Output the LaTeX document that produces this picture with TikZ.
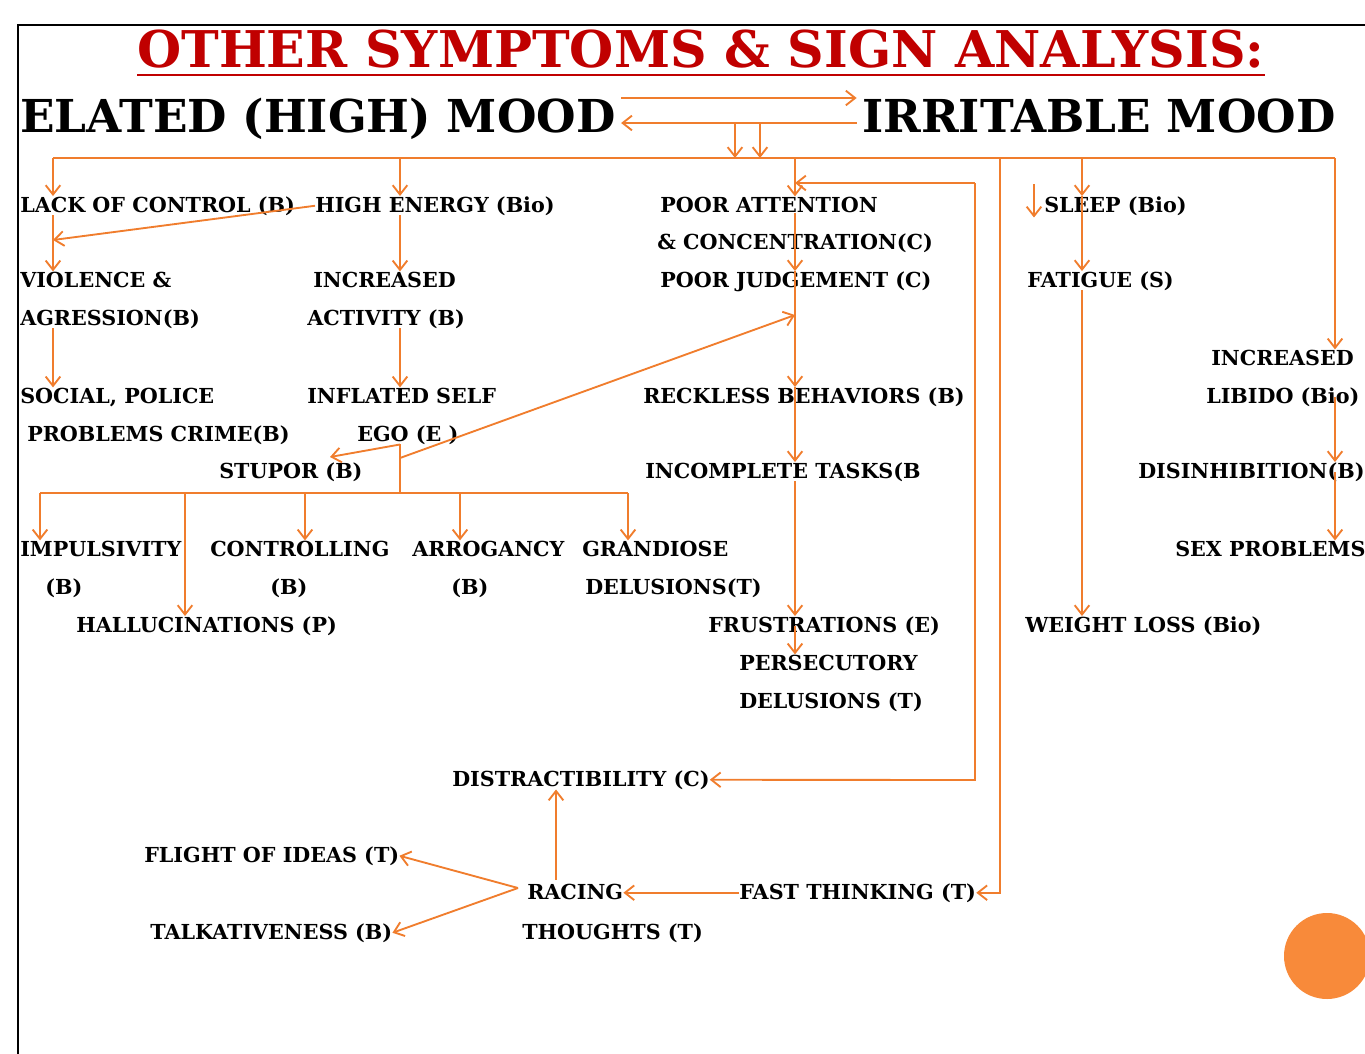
\documentclass[tikz,border=0pt]{standalone}
\usepackage{fontspec}
\setmainfont{DejaVu Serif}
\usetikzlibrary{arrows.meta,calc}
\definecolor{linkorange}{RGB}{240,125,45}
\definecolor{dotorange}{RGB}{248,138,58}
\definecolor{titlered}{RGB}{192,0,0}

\begin{document}
\begin{tikzpicture}[x=0.75pt,y=0.75pt,yscale=-1,
  lbl/.style={anchor=base west,inner sep=0pt,font=\fontsize{15.5}{18}\selectfont\bfseries},
  moodtxt/.style={anchor=base west,inner sep=0pt,font=\fontsize{34}{36}\selectfont\bfseries},
  link/.style={draw=linkorange,line width=1.4pt},
  arr/.style={link,-{Straight Barb[length=7pt,width=11pt]}}]
\useasboundingbox (0,0) rectangle (1365,1054);

% frame and dot
\draw[line width=1.5pt] (1365,25) -- (18,25) -- (18,1054);
\fill[dotorange] (1327,956) circle (43);

% heading
\node[anchor=base west,inner sep=0pt,text=titlered,font=\fontsize{38}{40}\selectfont\bfseries] (title) at (137,67) {OTHER SYMPTOMS \& SIGN ANALYSIS:};
\draw[titlered,line width=1.6pt] ($(title.base west)+(0,8)$) -- ($(title.base east)+(0,8)$);
\node[moodtxt] (elated) at (20,132) {ELATED (HIGH) MOOD};
\node[moodtxt] (irrit) at (862,132) {IRRITABLE MOOD};

% labels
\node[lbl] (lack) at (20,212) {LACK OF CONTROL (B)};
\node[lbl] (energy) at (315,212) {HIGH ENERGY (Bio)};
\node[lbl] (att) at (660,212) {POOR ATTENTION};
\node[lbl] (conc) at (657,249) {\& CONCENTRATION(C)};
\node[lbl] (judg) at (660,287) {POOR JUDGEMENT (C)};
\node[lbl] (sleep) at (1044,212) {SLEEP (Bio)};
\node[lbl] (fat) at (1027,287) {FATIGUE (S)};
\node[lbl] (viol) at (20,287) {VIOLENCE \&};
\node[lbl] (viol2) at (20,325) {AGRESSION(B)};
\node[lbl] (incr) at (313,287) {INCREASED};
\node[lbl] (incr2) at (307,325) {ACTIVITY (B)};
\node[lbl] (libido) at (1211,365) {INCREASED};
\node[lbl] (libido2) at (1206,403) {LIBIDO (Bio)};
\node[lbl] (social) at (20,403) {SOCIAL, POLICE};
\node[lbl] (social2) at (27,441) {PROBLEMS CRIME(B)};
\node[lbl] (infl) at (307,403) {INFLATED SELF};
\node[lbl] (infl2) at (357,441) {EGO (E )};
\node[lbl] (reck) at (643,403) {RECKLESS BEHAVIORS (B)};
\node[lbl] (stupor) at (219,478) {STUPOR (B)};
\node[lbl] (incom) at (645,478) {INCOMPLETE TASKS(B};
\node[lbl] (disinh) at (1138,478) {DISINHIBITION(B)};
\node[lbl] (impul) at (20,556) {IMPULSIVITY};
\node[lbl] (impul2) at (45,594) {(B)};
\node[lbl] (ctrl) at (210,556) {CONTROLLING};
\node[lbl] (ctrl2) at (270,594) {(B)};
\node[lbl] (arro) at (412,556) {ARROGANCY};
\node[lbl] (arro2) at (451,594) {(B)};
\node[lbl] (grand) at (582,556) {GRANDIOSE};
\node[lbl] (grand2) at (585,594) {DELUSIONS(T)};
\node[lbl] (sex) at (1175,556) {SEX PROBLEMS};
\node[lbl] (hallu) at (76,632) {HALLUCINATIONS (P)};
\node[lbl] (frus) at (708,632) {FRUSTRATIONS (E)};
\node[lbl] (pers) at (739,670) {PERSECUTORY};
\node[lbl] (pers2) at (739,708) {DELUSIONS (T)};
\node[lbl] (weight) at (1025,632) {WEIGHT LOSS (Bio)};
\node[lbl] (distr) at (452,786) {DISTRACTIBILITY (C)};
\node[lbl] (flight) at (144,862) {FLIGHT OF IDEAS (T)};
\node[lbl] (racing) at (527,899) {RACING};
\node[lbl] (racing2) at (522,939) {THOUGHTS (T)};
\node[lbl] (fast) at (739,899) {FAST THINKING (T)};
\node[lbl] (talk) at (150,939) {TALKATIVENESS (B)};

% mood links
\coordinate (mu) at (0,98);
\coordinate (ml) at (0,123);
\draw[arr,shorten <=4pt,shorten >=4pt] (elated.east |- mu) -- (irrit.west |- mu);
\draw[arr,shorten <=4pt,shorten >=4pt] (irrit.west |- ml) -- (elated.east |- ml);

% main bus
\coordinate (cA) at (53,158);
\coordinate (cB) at (400,158);
\coordinate (cC) at (795,158);
\coordinate (cD) at (1000,158);
\coordinate (cE) at (1082,158);
\coordinate (cF) at (1335,158);
\coordinate (m1) at (735,123);
\coordinate (m2) at (760,123);
\draw[link] (cA) -- (cF);
\draw[arr] (m1) -- (m1 |- cA);
\draw[arr] (m2) -- (m2 |- cA);

% left column
\coordinate (lackin) at (53,240);
\draw[arr] (cA) -- (cA |- lack.north);
\draw[arr] (cA |- lack.south) -- (cA |- viol.north);
\draw[arr] (energy.west) -- (lackin);
\draw[arr] (cA |- viol2.south) -- (cA |- social.north);

% energy column
\coordinate (egomid) at (400,458);
\coordinate (stupin) at (330,457);
\coordinate (judgin) at (795,315);
\draw[arr] (cB) -- (cB |- energy.north);
\draw[arr] (cB |- energy.south) -- (cB |- incr.north);
\draw[arr] (cB |- incr2.south) -- (cB |- infl.north);
\draw[arr] (cB |- infl2.south) -- (stupin);
\draw[arr] (egomid) -- (judgin);

% second bus
\coordinate (b2L) at (40,493);
\coordinate (b2H) at (185,493);
\coordinate (b2C) at (305,493);
\coordinate (b2A) at (460,493);
\coordinate (b2R) at (628,493);
\draw[link] (cB |- infl2.south) -- (cB |- b2L);
\draw[link] (b2L) -- (b2R);
\draw[arr] (b2L) -- (b2L |- impul.north);
\draw[arr] (b2H) -- (b2H |- hallu.north);
\draw[arr] (b2C) -- (b2C |- ctrl.north);
\draw[arr] (b2A) -- (b2A |- arro.north);
\draw[arr] (b2R) -- (b2R |- grand.north);

% attention column
\coordinate (fbtop) at (975,183);
\coordinate (fbbot) at (975,780);
\draw[arr] (cC) -- (cC |- att.north);
\draw[arr] (cC |- att.south) -- (cC |- judg.north);
\draw[arr] (cC |- judg.north) -- (cC |- reck.north);
\draw[arr] (cC |- reck.north) -- (cC |- incom.north);
\draw[arr] (cC |- incom.south) -- (cC |- frus.north);
\draw[arr] (cC |- frus.center) -- (cC |- pers.north);
\draw[arr] (fbtop) -- (cC |- fbtop);
\draw[arr] (fbtop) -- (fbbot) -- (distr.east);

% fast thinking
\draw[arr] (cD) |- (fast.east);

% sleep column
\draw[arr] (cE) -- (cE |- sleep.north);
\draw[arr] (cE |- sleep.north) -- (cE |- fat.north);
\draw[arr] (cE |- fat.south) -- (cE |- weight.north);
\draw[arr] ($(sleep.north west)+(-10,-12)$) -- ($(sleep.south west)+(-10,2)$);

% libido column
\draw[arr] (cF) -- (cF |- libido.north);
\draw[arr] (cF |- libido2.center) -- (cF |- disinh.north);
\draw[arr] (cF |- disinh.center) -- (cF |- sex.north);

% racing thoughts
\coordinate (rup) at (556,880);
\coordinate (fork) at (518,888);
\draw[arr] (rup) -- (rup |- distr.south);
\draw[arr] (fast.west) -- (racing.east |- fast.west);
\draw[arr] (fork) -- (flight.east);
\draw[arr] (fork) -- (talk.east);
\end{tikzpicture}
\end{document}
